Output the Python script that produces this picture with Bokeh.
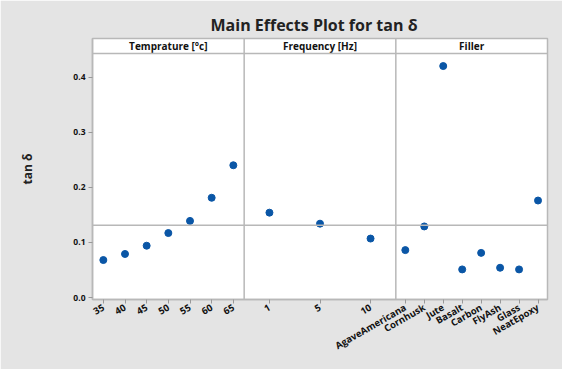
import numpy as np
from bokeh.plotting import figure
from bokeh.models import Span, FixedTicker, ColumnDataSource
from bokeh.core.properties import value
from bokeh.embed import file_html
from bokeh.resources import INLINE

# ---- data ----
temp_levels = ["35", "40", "45", "50", "55", "60", "65"]
temp_means = [0.068, 0.079, 0.094, 0.117, 0.139, 0.181, 0.240]
freq_levels = ["1", "5", "10"]
freq_means = [0.154, 0.134, 0.107]
filler_levels = ["AgaveAmericana", "Cornhusk", "Jute", "Basalt", "Carbon", "FlyAsh", "Glass", "NeatEpoxy"]
filler_means = [0.086, 0.129, 0.420, 0.051, 0.081, 0.054, 0.051, 0.176]
panel_titles = ["Temprature [\u00b0c]", "Frequency [Hz]", "Filler"]
y_ticks = [0.0, 0.1, 0.2, 0.3, 0.4]

FONT = "Open Sans"
BLUE = "#0a56a6"
GRID = "#b8b8b8"

panels = [(temp_levels, temp_means), (freq_levels, freq_means), (filler_levels, filler_means)]

xs, ys, labels = [], [], []
for k, (lv, mv) in enumerate(panels):
    n = len(lv)
    for i, (l, m) in enumerate(zip(lv, mv)):
        xs.append(k + (i + 0.5) / n)
        ys.append(m)
        labels.append(l)

grand_mean = float(np.mean(temp_means))

y_data_top = 0.4427
y_head_top = 0.4700

p = figure(width=562, height=369, output_backend="svg", toolbar_location=None,
           x_range=(0, 3), y_range=(-0.0036, y_head_top),
           min_border_left=92, min_border_right=15, min_border_top=38, min_border_bottom=70)

p.background_fill_color = "white"
p.border_fill_color = "#e4e4e4"
p.outline_line_color = GRID
p.outline_line_width = 1.5
p.xgrid.visible = False
p.ygrid.visible = False

# title
p.title.text = "Main Effects Plot for tan \u03b4"
p.title.text_font = FONT
p.title.text_font_size = "16px"
p.title.text_font_style = "bold"
p.title.text_color = "#222222"
p.title.align = "left"
p.title.offset = 118
p.title.standoff = 6

src = ColumnDataSource(dict(x=xs, y=ys))
p.scatter("x", "y", source=src, size=7, color=BLUE)

# axes
p.xaxis.ticker = FixedTicker(ticks=xs)
p.xaxis.major_label_overrides = {x: l for x, l in zip(xs, labels)}
p.xaxis.major_label_orientation = np.pi / 6
p.yaxis.ticker = FixedTicker(ticks=y_ticks)
p.yaxis.major_label_overrides = {t: f"{t:.1f}" for t in y_ticks}
for ax in (p.xaxis, p.yaxis):
    ax.axis_line_color = GRID
    ax.axis_line_width = 1.5
    ax.major_tick_line_color = "#999999"
    ax.major_tick_out = 4
    ax.major_tick_in = 0
    ax.minor_tick_line_color = None
    ax.major_label_text_font = FONT
    ax.major_label_text_font_style = "bold"
    ax.major_label_text_color = "#111111"
    ax.major_label_standoff = 3
p.xaxis.major_label_text_font_size = "9.5px"
p.yaxis.major_label_text_font_size = "8.5px"

p.yaxis.axis_label = "tan \u03b4"
p.yaxis.axis_label_text_font = FONT
p.yaxis.axis_label_text_font_size = "12px"
p.yaxis.axis_label_text_font_style = "bold"
p.yaxis.axis_label_text_color = "#222222"
p.yaxis.axis_label_standoff = 34

# panel separators, header strip and reference line
for k in (1, 2):
    p.add_layout(Span(location=k, dimension="height", line_color=GRID, line_width=1.5))
p.add_layout(Span(location=y_data_top, dimension="width", line_color=GRID, line_width=1.5))
p.add_layout(Span(location=grand_mean, dimension="width", line_color=GRID, line_width=1.5))

hsrc = ColumnDataSource(dict(x=[0.5, 1.5, 2.5], y=[(y_data_top + y_head_top) / 2] * 3, t=panel_titles))
p.text("x", "y", text="t", source=hsrc, text_font=value(FONT), text_font_style="bold",
       text_font_size="10px", text_align="center", text_baseline="middle", text_color="#111111")

open("out.html", "w").write(file_html(p, INLINE))
